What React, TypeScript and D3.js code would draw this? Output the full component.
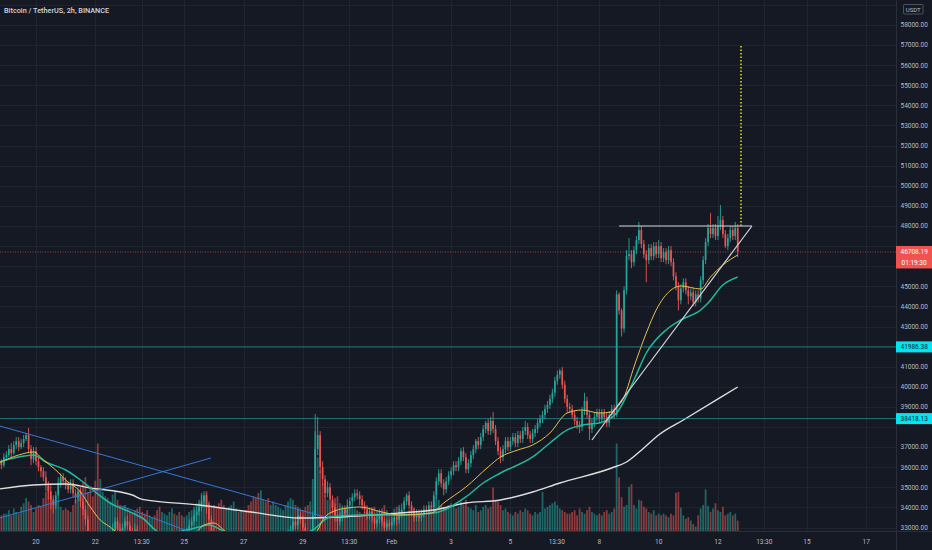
import React from "react";
import * as d3 from "d3";

const DAY = 86400000;
const BAR_MS = 7200000;
const FIRST_BAR = Date.UTC(2021, 0, 18, 18);
const FIRST_OPEN = 36.45; // thousand USDT

// 2h closes, thousand USDT (Jan 18 18:00 UTC .. Feb 12 16:00 UTC)
const closes: number[] = [
  36.3, 36.1, 36.5,
  36.6, 36.9, 36.7, 37.1, 37.3, 37.0, 37.2, 37.4, 37.6, 36.9, 36.4, 36.8,
  36.3, 36.0, 35.8, 35.5, 35.1, 34.8, 34.4, 34.1, 34.6, 35.2, 35.5, 35.3,
  35.1, 34.9, 35.2, 34.7, 34.5, 34.8, 34.3, 33.9, 33.4, 32.6, 31.5, 31.0,
  30.4, 29.5, 30.6, 31.3, 31.8, 32.2, 32.5, 32.9, 33.3, 32.9, 32.7, 33.0,
  33.3, 33.1, 32.8, 32.6, 32.9, 32.5, 32.2, 32.0, 31.8, 31.6, 32.0, 32.1,
  31.8, 31.4, 31.2, 31.6, 31.9, 32.2, 32.5, 32.6, 32.3, 32.5, 32.4, 32.3,
  32.5, 32.8, 33.1, 33.3, 33.6, 33.8, 34.0, 34.3, 34.6, 34.0, 33.4, 32.8,
  32.4, 32.0, 31.6, 31.2, 31.0, 31.4, 31.8, 32.1, 32.4, 32.6, 32.3, 32.5,
  32.3, 32.0, 31.6, 31.2, 30.6, 30.2, 29.8, 30.4, 30.8, 30.3, 29.9, 30.4,
  30.6, 31.0, 31.2, 31.6, 31.8, 32.2, 32.6, 32.9, 33.3, 33.1, 33.6, 33.4,
  33.0, 32.6, 32.3, 32.5, 33.6, 36.9, 37.6, 36.0, 35.4, 34.7, 35.0, 34.4,
  34.0, 33.6, 33.3, 33.5, 33.9, 33.7, 34.1, 34.3, 34.5, 34.7, 34.6, 34.4,
  34.1, 33.9, 33.6, 33.8, 33.5, 33.2, 33.4, 33.6, 33.3, 33.0, 33.2, 33.1,
  33.3, 33.5, 33.4, 33.7, 33.9, 34.3, 34.6, 34.1, 33.8, 33.5, 33.7, 33.5,
  33.7, 33.9, 33.8, 34.1, 34.0, 34.6, 35.3, 35.7, 35.2, 34.9, 35.3, 35.6,
  35.8, 36.1, 36.0, 36.3, 36.8, 36.5, 35.9, 36.2, 36.6, 36.9, 37.3, 37.1,
  37.5, 37.9, 38.2, 37.8, 38.3, 37.9, 37.3, 36.8, 36.5, 36.9, 37.3, 37.0,
  37.3, 37.5, 37.2, 37.6, 37.4, 37.8, 38.0, 37.6, 37.4, 37.7, 37.9, 38.2,
  38.4, 38.6, 38.9, 39.1, 39.4, 39.7, 40.3, 40.6, 40.8, 40.1, 39.4, 39.0,
  38.9, 38.6, 38.3, 38.1, 38.0, 38.8, 39.3, 38.6, 37.9, 38.2, 38.5, 38.7,
  38.4, 38.7, 38.5, 38.2, 38.6, 38.9, 38.6, 44.6, 43.8, 42.9, 44.8, 46.5,
  46.6, 46.2, 46.8, 47.3, 47.8, 47.1, 46.6, 46.3, 46.9, 46.5, 47.0, 46.6,
  47.0, 46.4, 46.7, 46.3, 46.8, 46.2, 45.5, 45.0, 44.3, 44.9, 45.2, 44.8,
  44.5, 44.7, 44.2, 44.6, 44.4, 45.3, 46.3, 47.2, 47.9, 47.6, 47.9, 47.5,
  48.0, 48.3, 47.6, 47.0, 47.4, 47.8, 47.5, 47.9, 46.70819,
];

// upper wick above body, hundred USDT
const wickUp: number[] = [
  2, 1, 2,
  2, 2, 3, 2, 2, 2, 2, 2, 1, 3.5, 2, 2,
  2, 2, 1, 2, 3, 2, 3, 2, 2, 3, 2, 2,
  2, 2, 2, 2, 2, 2, 2, 2, 2, 2, 2, 3,
  3, 3, 3, 2, 3, 3, 2, 3, 2, 2, 3, 2,
  2, 3, 2, 2, 3, 2, 2, 2, 3, 2, 3, 2,
  2, 2, 2, 3, 2, 3, 2, 3, 2, 2, 2, 2,
  2, 2, 3, 2, 3, 2, 2, 3, 2, 1, 2, 2,
  2, 2, 2, 2, 3, 2, 2, 2, 3, 2, 2, 2,
  2, 2, 2, 2, 2, 3, 2, 3, 2, 2, 2, 2,
  2, 2, 3, 2, 2, 2, 3, 2, 2, 2, 3, 2,
  2, 2, 2, 2, 2, 17.5, 9, 2, 3, 2, 3, 2,
  2, 2, 2, 3, 2, 2, 3, 2, 2, 2, 2, 2,
  2, 2, 2, 2, 2, 2, 2, 3, 2, 2, 2, 2,
  2, 2, 2, 3, 3, 2, 1, 2, 2, 2, 2, 2,
  2, 2, 2, 2, 2, 2, 2, 2, 2, 2, 2, 2,
  2, 2, 2, 2, 1.5, 2, 2, 2, 2, 2, 1, 2,
  2, 2, 1, 2, 2, 4.5, 2, 2, 2, 2, 2, 2,
  2, 2, 2, 2, 2, 2, 3, 2, 2, 2, 2, 2,
  2, 2, 2, 2, 2, 2, 2, 2, 1, 1.8, 2, 2,
  2, 2, 2, 2, 2, 2, 4, 2, 2, 2, 2, 2,
  2, 2, 2, 2, 2, 2, 2, 2, 1, 1, 2, 3,
  8, 2, 2, 2, 4, 2, 2, 2, 2, 2, 2, 2,
  3, 2, 2, 2, 2, 2, 2, 2, 2, 2, 2, 2,
  2, 2, 2, 2, 2, 2, 2, 2, 2, 7.5, 2, 2,
  5, 7.5, 2, 2, 2, 2, 2, 3, 2,
];

// lower wick below body, hundred USDT
const wickDn: number[] = [
  1, 2, 1,
  2, 1, 2, 1, 2, 2, 1, 2, 1, 2, 3, 2,
  2, 2, 3, 2, 3, 4, 5, 4, 2, 2, 2, 2,
  2, 2, 2, 2, 3, 2, 3, 3, 3, 4, 5, 4,
  4, 7, 2, 3, 2, 2, 3, 2, 3, 3, 2, 2,
  2, 2, 3, 2, 2, 3, 2, 2, 3, 2, 2, 2,
  3, 3, 2, 2, 2, 2, 2, 2, 3, 2, 2, 2,
  2, 2, 2, 2, 2, 3, 2, 2, 2, 3, 3, 3,
  3, 3, 2, 3, 4, 2, 2, 2, 2, 3, 2, 2,
  2, 2, 3, 3, 3, 3, 4, 2, 2, 3, 3, 2,
  3, 2, 2, 2, 2, 2, 2, 2, 2, 2, 2, 2,
  3, 3, 4, 2, 3, 2, 3, 3, 3, 2, 2, 3,
  3, 3, 4.5, 2, 2, 2, 2, 2, 2, 2, 2, 3,
  2, 2, 2, 2, 2, 3, 2, 2, 2, 3, 2, 2,
  2, 2, 3, 2, 2, 2, 2, 2, 2, 2, 2, 2,
  2, 2, 2, 2, 2, 2, 2, 2, 2, 3, 2, 2,
  2, 2, 2, 2, 2, 2, 2, 2, 2, 2, 2, 2,
  2, 2, 2, 2, 2, 2, 2, 2, 3, 2, 2, 2,
  2, 2, 2, 2, 2, 2, 2, 2, 2, 2, 2, 2,
  2, 2, 2, 2, 2, 2, 2, 2, 2, 2, 2, 3,
  2, 2, 2, 2, 3, 2, 2, 2, 5.5, 2, 2, 2,
  2, 2, 2, 2, 2, 2, 2, 1, 2, 4, 2, 2,
  2, 3, 2, 2, 2, 2, 2, 11, 2, 2, 2, 2,
  2, 2, 2, 2, 2, 2, 2, 2, 5, 2, 2, 2,
  4, 2, 2, 2, 2, 2, 2, 2, 2, 2, 2, 2,
  2, 2, 2, 1, 2, 2, 2, 2, 2.6,
];

// volume, hundred BTC
const volumes: number[] = [
  22, 18, 20,
  20, 24, 18, 26, 22, 20, 28, 32, 38, 34, 30, 22,
  26, 30, 28, 38, 45, 52, 40, 34, 30, 36, 28, 24,
  26, 24, 22, 30, 36, 40, 48, 56, 62, 45, 52, 40,
  58, 101, 60, 45, 40, 38, 34, 42, 46, 36, 30, 28,
  30, 26, 22, 20, 24, 26, 28, 22, 20, 24, 18, 16,
  18, 24, 28, 22, 20, 18, 22, 26, 20, 18, 22, 18,
  16, 18, 22, 24, 28, 32, 36, 44, 40, 46, 34, 28,
  30, 28, 32, 36, 30, 26, 28, 30, 34, 26, 22, 24,
  22, 24, 30, 34, 40, 38, 44, 47, 36, 34, 38, 30,
  34, 30, 28, 26, 24, 30, 34, 38, 36, 30, 28, 26,
  24, 28, 30, 34, 60, 115, 85, 70, 55, 42, 36, 30,
  34, 38, 40, 32, 28, 26, 24, 28, 30, 26, 24, 22,
  20, 22, 24, 20, 26, 28, 24, 22, 26, 30, 24, 20,
  22, 26, 28, 30, 24, 22, 20, 24, 22, 26, 20, 18,
  20, 22, 18, 24, 26, 34, 40, 36, 30, 28, 26, 30,
  32, 30, 26, 28, 34, 30, 36, 28, 26, 24, 30, 22,
  24, 28, 30, 26, 28, 50, 36, 34, 30, 24, 26, 22,
  20, 18, 22, 20, 24, 22, 26, 24, 20, 18, 22, 20,
  22, 45, 26, 28, 30, 32, 34, 30, 26, 24, 22, 20,
  20, 22, 24, 18, 26, 22, 20, 24, 28, 22, 20, 18,
  20, 18, 22, 24, 20, 22, 26, 101, 62, 39, 28, 30,
  51, 54, 30, 26, 36, 35, 28, 26, 22, 20, 24, 18,
  20, 18, 20, 18, 16, 20, 18, 44, 45, 27, 18, 14,
  16, 12, 8, 5, 18, 26, 30, 48, 29, 22, 26, 32,
  24, 22, 28, 18, 20, 22, 18, 20, 12,
];

// moving averages: [bar index, price]
const fastMA: [number, number][] = [
  [0, 36210], [8, 36608], [14, 36757], [18, 36359], [23, 35861], [27, 35363], [33, 34766],
  [37, 34020], [41, 33374], [45, 33025], [49, 32627], [60, 32000], [72, 32250], [80, 32777],
  [83, 33125], [87, 33224], [91, 32876], [97, 32130], [110, 31800], [122, 32379], [129, 32876],
  [131, 33374], [134, 33722], [141, 33971], [146, 34020], [155, 33771], [162, 33622], [175, 33722],
  [180, 34219], [189, 35015], [198, 36010], [203, 36508], [210, 36856], [216, 37105], [223, 37703],
  [230, 38697], [236, 38846], [243, 38697], [248, 38750], [250, 38950], [253, 39493], [257, 40985],
  [262, 42677], [266, 43821], [272, 44816], [276, 45015], [284, 44866], [288, 45463], [293, 46060],
  [299, 46558],
];
const midMA: [number, number][] = [
  [0, 36259], [8, 36508], [14, 36608], [19, 36259], [27, 35861], [33, 35363], [38, 34866],
  [45, 34219], [54, 33722], [58, 33473], [66, 32700], [76, 32876], [81, 33025], [85, 33125],
  [90, 32876], [98, 32379], [110, 32200], [122, 32627], [127, 32876], [134, 33522], [147, 33622],
  [162, 33622], [176, 33722], [189, 34518], [196, 35214], [203, 35712], [216, 36508], [223, 37204],
  [230, 37853], [236, 38100], [243, 38200], [250, 38697], [257, 40338], [262, 41682], [270, 42826],
  [276, 43323], [284, 43821], [287, 44169], [293, 45065], [299, 45463],
];
const slowMA: [number, number][] = [
  [0, 34915], [14, 35114], [27, 35164], [37, 34965], [54, 34617], [58, 34400], [81, 34120],
  [102, 33771], [122, 33473], [138, 33522], [162, 33721], [176, 33871], [189, 34219], [203, 34368],
  [216, 34766], [227, 35214], [248, 35960], [254, 36259], [261, 36957], [267, 37603], [277, 38349],
  [299, 39990],
];

// drawings: [time, price] endpoints
const blueLines: [[string, number], [string, number]][] = [
  [["2021-01-18T18:00Z", 38060], ["2021-01-29T18:00Z", 33520]],
  [["2021-01-18T18:00Z", 33460], ["2021-01-25T21:40Z", 36460]],
  [["2021-01-22T20:50Z", 34070], ["2021-01-25T04:40Z", 32780]],
];
const whiteLines: [[string, number], [string, number]][] = [
  [["2021-02-08T16:00Z", 48000], ["2021-02-13T03:30Z", 48000]],
  [["2021-02-07T18:00Z", 37353], ["2021-02-13T03:30Z", 48000]],
];
const targetLine: [[string, number], [string, number]] = [["2021-02-12T18:40Z", 48000], ["2021-02-12T18:40Z", 57000]];

const levels: number[] = [41986.38, 38418.13];
const lastPrice = 46708.19;
const countdown = "01:19:30";
const title = "Bitcoin / TetherUS, 2h, BINANCE";
const yTicks: number[] = d3.range(33000, 59001, 1000);
const xTicks: [string, string][] = [
  ["2021-01-20T00:00Z", "20"], ["2021-01-22T00:00Z", "22"], ["2021-01-23T13:30Z", "13:30"],
  ["2021-01-25T00:00Z", "25"], ["2021-01-27T00:00Z", "27"], ["2021-01-29T00:00Z", "29"],
  ["2021-01-30T13:30Z", "13:30"], ["2021-02-01T00:00Z", "Feb"], ["2021-02-03T00:00Z", "3"],
  ["2021-02-05T00:00Z", "5"], ["2021-02-06T13:30Z", "13:30"], ["2021-02-08T00:00Z", "8"],
  ["2021-02-10T00:00Z", "10"], ["2021-02-12T00:00Z", "12"], ["2021-02-13T13:30Z", "13:30"],
  ["2021-02-15T00:00Z", "15"], ["2021-02-17T00:00Z", "17"],
];

const UP = "#26a69a";
const DOWN = "#ef5350";
const FONT = "Roboto, 'Liberation Sans', Arial, sans-serif";

export default function App() {
  const W = 932, H = 550, PR = 896, PB = 531;
  const anchor = Date.UTC(2021, 0, 20);
  const pxPerDay = 29.65;
  const x = d3.scaleUtc()
    .domain([new Date(anchor - (36 / pxPerDay) * DAY), new Date(anchor + ((PR - 36) / pxPerDay) * DAY)])
    .range([0, PR]);
  const y = d3.scaleLinear().domain([33000, 58000]).range([527.5, 25]);
  const vy = d3.scaleLinear().domain([0, 15000]).range([PB, 401]);

  const n = Math.min(closes.length, wickUp.length, wickDn.length, volumes.length);
  const bars = d3.range(n).map((i) => {
    const close = closes[i] * 1000;
    const open = (i === 0 ? FIRST_OPEN : closes[i - 1]) * 1000;
    const high = Math.max(open, close) + wickUp[i] * 100;
    const low = Math.min(open, close) - wickDn[i] * 100;
    return { i, t: new Date(FIRST_BAR + i * BAR_MS), open, close, high, low, vol: volumes[i] * 100 };
  });
  const bx = (i: number) => x(new Date(FIRST_BAR + i * BAR_MS));
  const ma = d3.line<[number, number]>().x((d) => bx(d[0])).y((d) => y(d[1])).curve(d3.curveMonotoneX);
  const seg = d3.line<[string, number]>().x((d) => x(new Date(d[0]))).y((d) => y(d[1]));
  const bw = 1.7;

  // label boxes on the price axis hide the tick labels beneath them
  const boxes: [number, number][] = [
    [4.5, 14],
    [y(lastPrice) - 6, y(lastPrice) + 16.5],
    ...levels.map((v) => [y(v) - 5.5, y(v) + 5.5] as [number, number]),
  ];
  const visibleTicks = yTicks.filter((v) => {
    const c = y(v);
    return !boxes.some(([a, b]) => c + 3 > a && c - 3 < b);
  });

  return (
    <svg width={W} height={H} style={{ position: "absolute", left: 0, top: 0, display: "block" }} fontFamily={FONT}>
      <defs>
        <clipPath id="plotclip">
          <rect x={0} y={0} width={PR} height={PB} />
        </clipPath>
      </defs>
      <rect x={0} y={0} width={W} height={H} fill="#151924" />

      <g stroke="#20242f" strokeWidth={1}>
        {yTicks.map((v) => (
          <line key={"gy" + v} x1={0} x2={PR} y1={Math.round(y(v)) + 0.5} y2={Math.round(y(v)) + 0.5} />
        ))}
        {xTicks.map(([d]) => (
          <line key={"gx" + d} x1={Math.round(x(new Date(d))) + 0.5} x2={Math.round(x(new Date(d))) + 0.5} y1={0} y2={PB} />
        ))}
      </g>

      <g clipPath="url(#plotclip)">
        <g>
          {bars.map((b) => {
            const up = b.close >= b.open;
            const cx = x(b.t);
            return (
              <rect key={"v" + b.i} x={cx - 0.9} width={1.8} y={vy(b.vol)} height={PB - vy(b.vol)}
                fill={up ? UP : DOWN} fillOpacity={0.55} />
            );
          })}
        </g>
        <g>
          {bars.map((b) => {
            const up = b.close >= b.open;
            const c = up ? UP : DOWN;
            const cx = x(b.t);
            const y0 = y(Math.max(b.open, b.close));
            const y1 = y(Math.min(b.open, b.close));
            return (
              <g key={"c" + b.i}>
                <line x1={cx} x2={cx} y1={y(b.high)} y2={y(b.low)} stroke={c} strokeWidth={0.9} />
                <rect x={cx - bw / 2} width={bw} y={y0} height={Math.max(0.8, y1 - y0)} fill={c} />
              </g>
            );
          })}
        </g>
        <path d={ma(slowMA) || ""} fill="none" stroke="#dedede" strokeWidth={1.4} />
        <path d={ma(midMA) || ""} fill="none" stroke="#22b99b" strokeWidth={1.5} />
        <path d={ma(fastMA) || ""} fill="none" stroke="#e3c24e" strokeWidth={1} />

        {levels.map((v) => (
          <line key={"lv" + v} x1={0} x2={PR} y1={y(v)} y2={y(v)} stroke="#2aa3a8" strokeWidth={1} strokeOpacity={0.65} />
        ))}
        <line x1={0} x2={PR} y1={y(lastPrice)} y2={y(lastPrice)} stroke={DOWN} strokeWidth={0.8} strokeDasharray="1 1.5" strokeOpacity={0.8} />

        {blueLines.map((l, k) => (
          <path key={"bl" + k} d={seg(l) || ""} stroke="#3479d4" strokeWidth={1} fill="none" />
        ))}
        {whiteLines.map((l, k) => (
          <path key={"wl" + k} d={seg(l) || ""} stroke="#d1d4dc" strokeWidth={1.2} fill="none" />
        ))}
        <path d={seg(targetLine) || ""} stroke="#e5e21a" strokeWidth={1.5} strokeDasharray="1.5 2" fill="none" />
      </g>

      <line x1={PR + 0.5} x2={PR + 0.5} y1={0} y2={H} stroke="#2a2e39" />
      <line x1={0} x2={W} y1={PB + 0.5} y2={PB + 0.5} stroke="#2a2e39" />

      <g fontSize={6.5} fill="#b8bbc4">
        {visibleTicks.map((v) => (
          <text key={"ty" + v} x={900.5} y={y(v) + 2.3}>{v.toFixed(2)}</text>
        ))}
        {xTicks.map(([d, lab]) => (
          <text key={"tx" + d} x={x(new Date(d))} y={544} textAnchor="middle">{lab}</text>
        ))}
      </g>

      <rect x={903.5} y={4.5} width={19.5} height={9.5} fill="#151924" stroke="#5d606b" strokeWidth={0.8} rx={1} />
      <text x={913.25} y={11.6} fontSize={6} fill="#b8bbc4" textAnchor="middle">USDT</text>

      {levels.map((v) => (
        <g key={"lb" + v}>
          <rect x={PR} y={y(v) - 5.5} width={W - PR} height={11} fill="#00e5f2" />
          <text x={900.5} y={y(v) + 2.3} fontSize={6.5} fill="#131722">{v.toFixed(2)}</text>
        </g>
      ))}
      <rect x={PR} y={y(lastPrice) - 6} width={W - PR} height={22.5} fill={DOWN} />
      <text x={900.5} y={y(lastPrice) + 2.3} fontSize={6.5} fill="#ffffff">{lastPrice.toFixed(2)}</text>
      <text x={901.5} y={y(lastPrice) + 13} fontSize={6.5} fill="#ffffff">{countdown}</text>

      <text x={4} y={12.5} fontSize={7.3} fontWeight={500} fill="#d1d4dc">{title}</text>
    </svg>
  );
}
